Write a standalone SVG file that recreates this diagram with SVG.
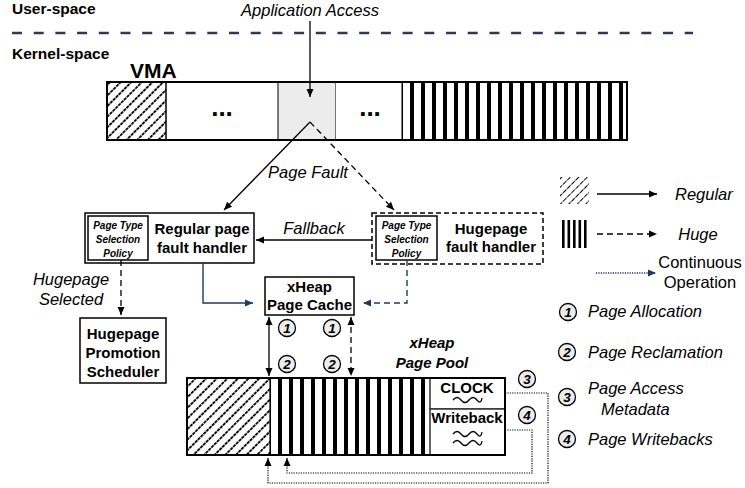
<svg xmlns="http://www.w3.org/2000/svg" width="745" height="488" viewBox="0 0 745 488">
<style>
text{font-family:"Liberation Sans",Arial,Helvetica,sans-serif;fill:#000}
.b{font-weight:bold}
.i{font-style:italic}
.bx{font-size:15px;font-weight:bold}
.lab{font-size:16.5px;font-style:italic}
.pol{font-size:10px;font-weight:bold;font-style:italic}
.box{fill:#fff;stroke:#000;stroke-width:1.5}
.ln{fill:none;stroke:#000;stroke-width:1.3}
.dash{stroke-dasharray:6 4}
.navy{fill:none;stroke:#1f3a60;stroke-width:1.4}
.dot{fill:none;stroke:#1f3a60;stroke-width:1.3;stroke-dasharray:1.2 1.2}
.circ{fill:#ececec;stroke:#000;stroke-width:1.3}
.num{font-size:13.5px;font-weight:bold;font-style:italic}
</style>
<defs>
<pattern id="hatch" width="7.5" height="8" patternUnits="userSpaceOnUse" patternTransform="rotate(45)">
<rect width="7.5" height="8" fill="#fff"/>
<line x1="0" y1="0" x2="0" y2="8" stroke="#000" stroke-width="3.6" stroke-dasharray="3.3 0.7"/>
</pattern>
<pattern id="hatchL" width="6" height="6" patternUnits="userSpaceOnUse" patternTransform="rotate(45)">
<rect width="6" height="6" fill="#fff"/>
<line x1="0" y1="0" x2="0" y2="6" stroke="#000" stroke-width="2" stroke-dasharray="2.5 1"/>
</pattern>
<pattern id="stripe" width="11" height="10" patternUnits="userSpaceOnUse">
<rect width="11" height="10" fill="#fff"/>
<rect x="3" width="4" height="10" fill="#000"/>
</pattern>
<marker id="ah" markerWidth="10" markerHeight="10" refX="9" refY="5" orient="auto" markerUnits="userSpaceOnUse">
<path d="M1,1.5 L9,5 L1,8.5 Z" fill="#000"/>
</marker>
<marker id="ahs" markerWidth="10" markerHeight="10" refX="1" refY="5" orient="auto" markerUnits="userSpaceOnUse">
<path d="M9,1.5 L1,5 L9,8.5 Z" fill="#000"/>
</marker>
<marker id="an" markerWidth="10" markerHeight="10" refX="9" refY="5" orient="auto" markerUnits="userSpaceOnUse">
<path d="M1,1.5 L9,5 L1,8.5 Z" fill="#1f3a60"/>
</marker>
</defs>

<g id="spaces">
<text x="12" y="14" class="b" font-size="15.5">User-space</text>
<line x1="12" y1="33" x2="693" y2="33" stroke="#2b3a55" stroke-width="2.5" stroke-dasharray="10 11.7"/>
<text x="12" y="59" class="b" font-size="15.5">Kernel-space</text>
<text x="310" y="16" class="lab" text-anchor="middle">Application Access</text>
</g>

<g id="vma">
<text x="130" y="78" class="b" font-size="21">VMA</text>
<rect x="107" y="82" width="59" height="58" fill="url(#hatch)"/>
<rect x="166" y="82" width="112" height="58" fill="#fff"/>
<rect x="278" y="82" width="58" height="58" fill="#ececec" stroke="#000" stroke-width="1"/>
<rect x="336" y="82" width="66" height="58" fill="#fff"/>
<rect x="402" y="82" width="225" height="58" fill="url(#stripe)"/>
<rect x="107" y="82" width="520" height="58" fill="none" stroke="#000" stroke-width="2"/>
<line x1="166" y1="82" x2="166" y2="140" stroke="#000" stroke-width="1.5"/>
<line x1="402" y1="82" x2="402" y2="140" stroke="#000" stroke-width="1"/>
<text x="222" y="116" class="b" font-size="26" text-anchor="middle">...</text>
<text x="370" y="116" class="b" font-size="26" text-anchor="middle">...</text>
</g>

<g id="regular-handler">
<rect x="85" y="213" width="169" height="50" class="box"/>
<rect x="88" y="216" width="60" height="44" class="box" stroke-width="1.2"/>
<text x="118" y="229" class="pol" text-anchor="middle">Page Type</text>
<text x="118" y="243" class="pol" text-anchor="middle">Selection</text>
<text x="118" y="257" class="pol" text-anchor="middle">Policy</text>
<text x="202" y="234" class="bx" text-anchor="middle">Regular page</text>
<text x="202" y="253" class="bx" text-anchor="middle">fault handler</text>
</g>

<g id="huge-handler">
<rect x="372" y="213" width="171" height="51" fill="#fff" stroke="#000" stroke-width="1.5" stroke-dasharray="5 3"/>
<rect x="376" y="216" width="61" height="44" class="box" stroke-width="1.2"/>
<text x="406.5" y="229" class="pol" text-anchor="middle">Page Type</text>
<text x="406.5" y="243" class="pol" text-anchor="middle">Selection</text>
<text x="406.5" y="257" class="pol" text-anchor="middle">Policy</text>
<text x="491" y="234" class="bx" text-anchor="middle">Hugepage</text>
<text x="491" y="252" class="bx" text-anchor="middle">fault handler</text>
</g>

<g id="page-cache">
<rect x="265" y="277" width="89" height="38" class="box"/>
<text x="309.5" y="292" class="bx" text-anchor="middle">xHeap</text>
<text x="309.5" y="310" class="bx" text-anchor="middle">Page Cache</text>
</g>

<g id="promotion-scheduler">
<rect x="80" y="318" width="86" height="65" class="box"/>
<text x="123" y="339" class="bx" text-anchor="middle">Hugepage</text>
<text x="123" y="358" class="bx" text-anchor="middle">Promotion</text>
<text x="123" y="377" class="bx" text-anchor="middle">Scheduler</text>
</g>

<g id="page-pool">
<text x="432" y="348" class="bx i" text-anchor="middle">xHeap</text>
<text x="432" y="368" class="bx i" text-anchor="middle">Page Pool</text>
<rect x="187" y="378" width="83" height="77" fill="url(#hatch)"/>
<rect x="270" y="378" width="160" height="77" fill="url(#stripe)"/>
<rect x="430" y="378" width="75" height="31" fill="#fff" stroke="#333" stroke-width="1.5"/>
<rect x="430" y="409" width="75" height="46" fill="#fff" stroke="#333" stroke-width="1.5"/>
<rect x="187" y="378" width="318" height="77" fill="none" stroke="#000" stroke-width="2"/>
<line x1="270" y1="378" x2="270" y2="455" stroke="#000" stroke-width="1.2"/>
<text x="467" y="393" class="bx" text-anchor="middle">CLOCK</text>
<path d="M453,400 q4,-5 8,0 t8,0 t8,0 t5,-2" class="ln" stroke-width="1"/>
<text x="467" y="423" class="bx" text-anchor="middle">Writeback</text>
<path d="M453,434 q4,-5 8,0 t8,0 t8,0 t5,-2" class="ln" stroke-width="1"/>
<path d="M453,443 q4,-5 8,0 t8,0 t8,0 t5,-2" class="ln" stroke-width="1"/>
</g>

<g id="connectors">
<line x1="310" y1="21" x2="310" y2="97" class="ln" marker-end="url(#ah)"/>
<line x1="310" y1="122" x2="224" y2="210" class="ln" marker-end="url(#ah)"/>
<line x1="310" y1="122" x2="394" y2="210" class="ln dash" marker-end="url(#ah)"/>
<text x="308" y="178" class="lab" text-anchor="middle">Page Fault</text>
<line x1="372" y1="240" x2="256" y2="240" class="ln" marker-end="url(#ah)"/>
<text x="314" y="234" class="lab" text-anchor="middle">Fallback</text>
<polyline points="203,263 203,303 253,303" class="navy" marker-end="url(#an)"/>
<polyline points="407,260 407,303 363,303" class="navy" stroke-dasharray="6 4" marker-end="url(#an)"/>
<line x1="121" y1="260" x2="121" y2="315" class="ln dash" marker-end="url(#ah)"/>
<text x="71" y="285" class="lab" text-anchor="middle">Hugepage</text>
<text x="71" y="305" class="lab" text-anchor="middle">Selected</text>
<line x1="269" y1="317" x2="269" y2="376" class="ln" marker-start="url(#ahs)" marker-end="url(#ah)"/>
<line x1="351" y1="317" x2="351" y2="376" class="ln dash" marker-start="url(#ahs)" marker-end="url(#ah)"/>
<polyline points="505,393 548,393 548,483 268,483 268,458" fill="none" stroke="#000" stroke-width="1.2" stroke-dasharray="1.2 1.2" marker-end="url(#ah)"/>
<polyline points="505,430 532,430 532,473 287,473 287,458" fill="none" stroke="#000" stroke-width="1.2" stroke-dasharray="1.2 1.2" marker-end="url(#ah)"/>
<circle cx="287" cy="328" r="8.5" class="circ"/><text x="287" y="333" class="num" text-anchor="middle">1</text>
<circle cx="332" cy="328" r="8.5" class="circ"/><text x="332" y="333" class="num" text-anchor="middle">1</text>
<circle cx="287" cy="364" r="8.5" class="circ"/><text x="287" y="369" class="num" text-anchor="middle">2</text>
<circle cx="332" cy="364" r="8.5" class="circ"/><text x="332" y="369" class="num" text-anchor="middle">2</text>
<circle cx="527" cy="379" r="8.5" class="circ"/><text x="527" y="384" class="num" text-anchor="middle">3</text>
<circle cx="527" cy="415" r="8.5" class="circ"/><text x="527" y="420" class="num" text-anchor="middle">4</text>
</g>

<g id="legend">
<rect x="560" y="177" width="29" height="27" fill="url(#hatchL)"/>
<line x1="597" y1="194" x2="657" y2="194" class="ln" marker-end="url(#ah)"/>
<text x="675" y="200" class="lab">Regular</text>
<rect x="562" y="220" width="2.6" height="28" fill="#000"/>
<rect x="567.5" y="220" width="2.6" height="28" fill="#000"/>
<rect x="573" y="220" width="2.6" height="28" fill="#000"/>
<rect x="578.5" y="220" width="2.6" height="28" fill="#000"/>
<rect x="584" y="220" width="2.6" height="28" fill="#000"/>
<line x1="597" y1="234" x2="657" y2="234" class="ln dash" marker-end="url(#ah)"/>
<text x="698" y="240" class="lab" text-anchor="middle">Huge</text>
<line x1="596" y1="273" x2="656" y2="273" class="dot" marker-end="url(#an)"/>
<text x="700" y="268" font-size="16.5" text-anchor="middle">Continuous</text>
<text x="700" y="288" font-size="16.5" text-anchor="middle">Operation</text>
<circle cx="568" cy="312" r="8.5" class="circ"/><text x="568" y="317" class="num" text-anchor="middle">1</text>
<text x="588" y="317" class="lab">Page Allocation</text>
<circle cx="567" cy="352" r="8.5" class="circ"/><text x="567" y="357" class="num" text-anchor="middle">2</text>
<text x="588" y="358" class="lab">Page Reclamation</text>
<circle cx="567" cy="397" r="8.5" class="circ"/><text x="567" y="402" class="num" text-anchor="middle">3</text>
<text x="588" y="394" class="lab">Page Access</text>
<text x="601" y="415" class="lab">Metadata</text>
<circle cx="567" cy="439" r="8.5" class="circ"/><text x="567" y="444" class="num" text-anchor="middle">4</text>
<text x="588" y="445" class="lab">Page Writebacks</text>
</g>
</svg>
